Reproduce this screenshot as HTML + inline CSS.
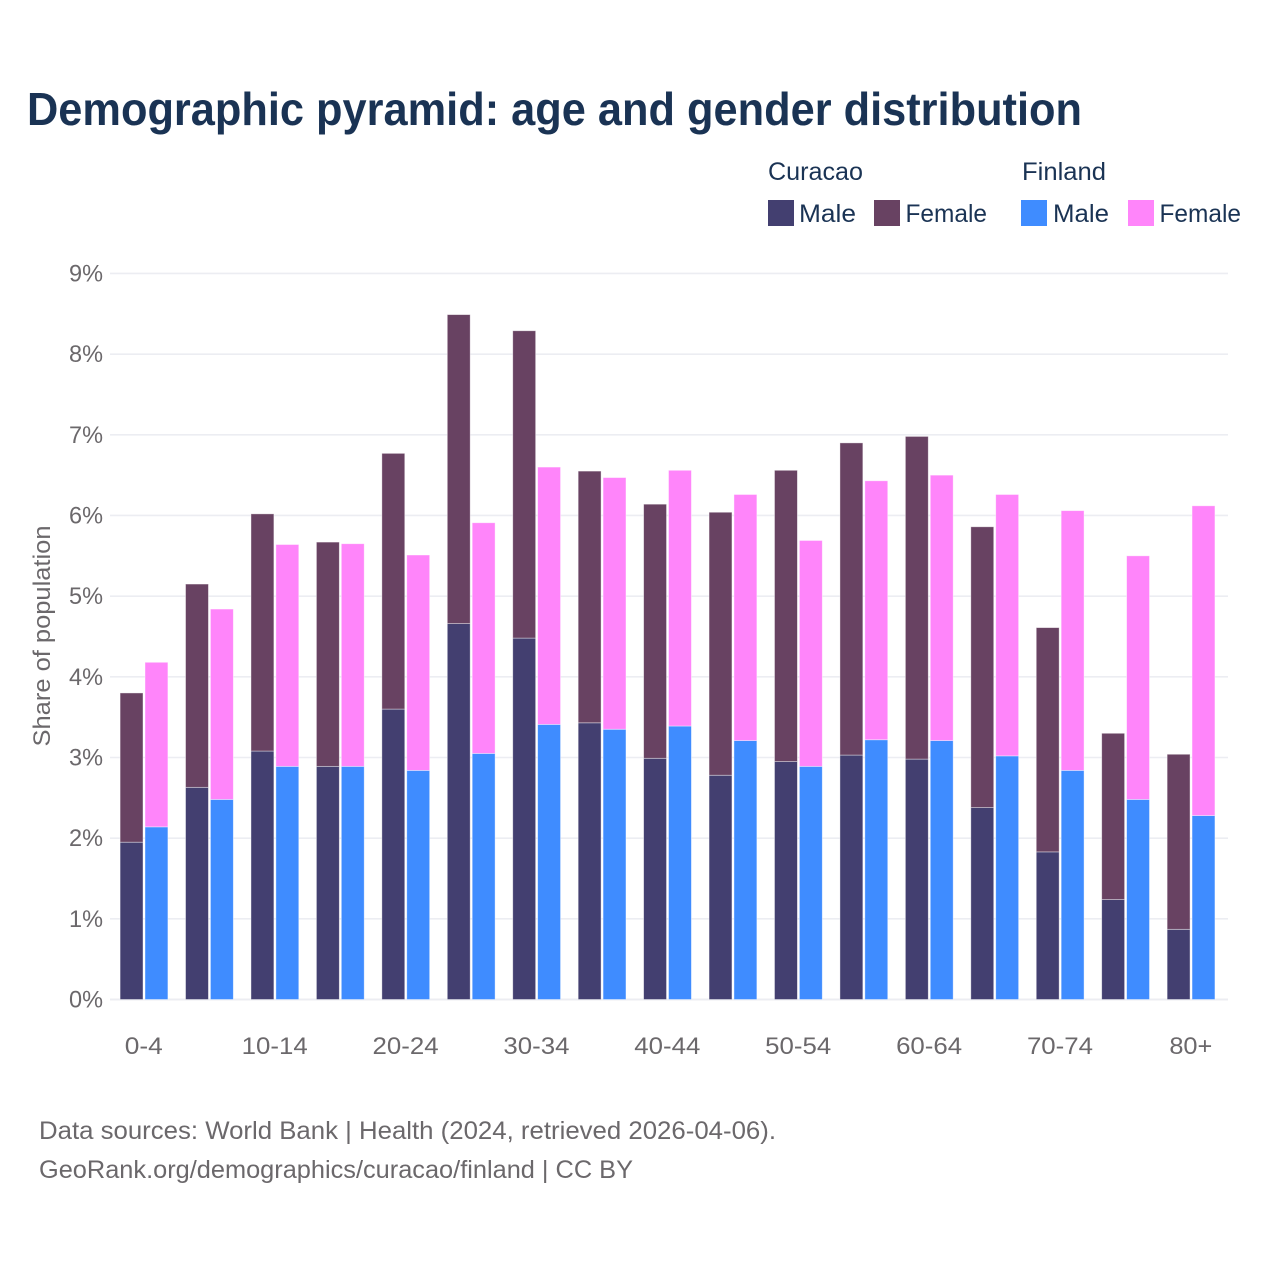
<!DOCTYPE html>
<html lang="en">
<head>
<meta charset="utf-8">
<title>Demographic pyramid: age and gender distribution</title>
<style>
html,body{margin:0;padding:0;background:#fff;width:1280px;height:1280px;overflow:hidden}
svg{display:block}
text{font-family:"Liberation Sans",sans-serif}
.dark{fill:#1a3354}
.gray{fill:#6b686b}
</style>
</head>
<body>
<svg id="chart" xmlns="http://www.w3.org/2000/svg" width="1280" height="1280" viewBox="0 0 1280 1280">
  <rect x="0" y="0" width="1280" height="1280" fill="#fff"/>
  <text class="dark" x="27" y="125" font-size="46" font-weight="700" textLength="1055" lengthAdjust="spacingAndGlyphs">Demographic pyramid: age and gender distribution</text>

  <g>
    <text class="dark" x="768" y="180" font-size="25" textLength="95" lengthAdjust="spacingAndGlyphs">Curacao</text>
    <text class="dark" x="1022" y="180" font-size="25" textLength="84" lengthAdjust="spacingAndGlyphs">Finland</text>
    <rect x="768" y="200" width="26" height="26" fill="#433f70"/>
    <text class="dark" x="799" y="222" font-size="25" textLength="57" lengthAdjust="spacingAndGlyphs">Male</text>
    <rect x="874" y="200" width="26" height="26" fill="#684262"/>
    <text class="dark" x="905.5" y="222" font-size="25" textLength="81.5" lengthAdjust="spacingAndGlyphs">Female</text>
    <rect x="1021" y="200" width="26" height="26" fill="#3f8cff"/>
    <text class="dark" x="1053" y="222" font-size="25" textLength="56" lengthAdjust="spacingAndGlyphs">Male</text>
    <rect x="1128" y="200" width="26" height="26" fill="#ff85fa"/>
    <text class="dark" x="1159.5" y="222" font-size="25" textLength="81.5" lengthAdjust="spacingAndGlyphs">Female</text>
  </g>

  <g id="grid"></g>
  <g id="yticks"></g>
  <g id="bars"></g>
  <g id="xticks"></g>

  <text class="gray" transform="translate(50,636) rotate(-90)" text-anchor="middle" font-size="24" textLength="221" lengthAdjust="spacingAndGlyphs">Share of population</text>

  <text class="gray" x="39" y="1139" font-size="25" textLength="737" lengthAdjust="spacingAndGlyphs">Data sources: World Bank | Health (2024, retrieved 2026-04-06).</text>
  <text class="gray" x="39" y="1178" font-size="25" textLength="594" lengthAdjust="spacingAndGlyphs">GeoRank.org/demographics/curacao/finland | CC BY</text>
</svg>
<script>
const ageGroups = ['0-4','5-9','10-14','15-19','20-24','25-29','30-34','35-39','40-44','45-49','50-54','55-59','60-64','65-69','70-74','75-79','80+'];
const xTickLabels = ['0-4','10-14','20-24','30-34','40-44','50-54','60-64','70-74','80+'];
const yTickValues = [0,1,2,3,4,5,6,7,8,9];
const curacaoMale = [1.95,2.63,3.08,2.89,3.60,4.66,4.48,3.43,2.99,2.78,2.95,3.03,2.98,2.38,1.83,1.24,0.87];
const curacaoFemale = [1.85,2.52,2.94,2.78,3.17,3.83,3.81,3.12,3.15,3.26,3.61,3.87,4.00,3.48,2.78,2.06,2.17];
const finlandMale = [2.14,2.48,2.89,2.89,2.84,3.05,3.41,3.35,3.39,3.21,2.89,3.22,3.21,3.02,2.84,2.48,2.28];
const finlandFemale = [2.04,2.36,2.75,2.76,2.67,2.86,3.19,3.12,3.17,3.05,2.80,3.21,3.29,3.24,3.22,3.02,3.84];

const NS = 'http://www.w3.org/2000/svg';
const plotLeft = 110, plotRight = 1228;
function yScale(v){ return 999.5 - v * 80.67; }
function xCenter(i){ return 143.8 + i * 65.44; }

const gridG = document.getElementById('grid');
const yTickG = document.getElementById('yticks');
const xTickG = document.getElementById('xticks');
const barG = document.getElementById('bars');

yTickValues.forEach(function(t){
  const line = document.createElementNS(NS,'line');
  
  
  line.setAttribute('x1', plotLeft);
  line.setAttribute('x2', plotRight);
  line.setAttribute('y1', yScale(t));
  line.setAttribute('y2', yScale(t));
  line.setAttribute('stroke', '#ecedf2');
  line.setAttribute('stroke-width', t === 0 ? 2 : 1.6);
  gridG.appendChild(line);
  const label = document.createElementNS(NS,'text');
  
  
  label.setAttribute('class', 'gray');
  label.setAttribute('x', 103);
  label.setAttribute('y', yScale(t) + 8);
  label.setAttribute('text-anchor', 'end');
  label.setAttribute('font-size', '24');
  label.setAttribute('textLength', '34');
  label.setAttribute('lengthAdjust', 'spacingAndGlyphs');
  label.textContent = t + '%';
  yTickG.appendChild(label);
});

xTickLabels.forEach(function(name){
  const label = document.createElementNS(NS,'text');
  
  
  label.setAttribute('class', 'gray');
  label.setAttribute('x', xCenter(ageGroups.indexOf(name)));
  label.setAttribute('y', 1054);
  label.setAttribute('text-anchor', 'middle');
  label.setAttribute('font-size', '24');
  label.setAttribute('textLength', name.length > 3 ? '66' : (name === '0-4' ? '38' : '43'));
  label.setAttribute('lengthAdjust', 'spacingAndGlyphs');
  label.textContent = name;
  xTickG.appendChild(label);
});

function drawBar(name, x, base, value, fill){
  const r = document.createElementNS(NS,'rect');
  
  
  r.setAttribute('x', x);
  r.setAttribute('y', yScale(base + value));
  r.setAttribute('width', 22.9);
  r.setAttribute('height', yScale(base) - yScale(base + value));
  r.setAttribute('fill', fill);
  r.setAttribute('stroke', '#ffffff');
  r.setAttribute('stroke-opacity', '0.5');
  r.setAttribute('stroke-width', '0.8');
  barG.appendChild(r);
}

ageGroups.forEach(function(age, i){
  const c = xCenter(i);
  const left = c - 23.7, right = c + 1.2;
  drawBar('bar-curacao-male-' + age, left, 0, curacaoMale[i], '#433f70');
  drawBar('bar-curacao-female-' + age, left, curacaoMale[i], curacaoFemale[i], '#684262');
  drawBar('bar-finland-male-' + age, right, 0, finlandMale[i], '#3f8cff');
  drawBar('bar-finland-female-' + age, right, finlandMale[i], finlandFemale[i], '#ff85fa');
});
</script>
</body>
</html>
